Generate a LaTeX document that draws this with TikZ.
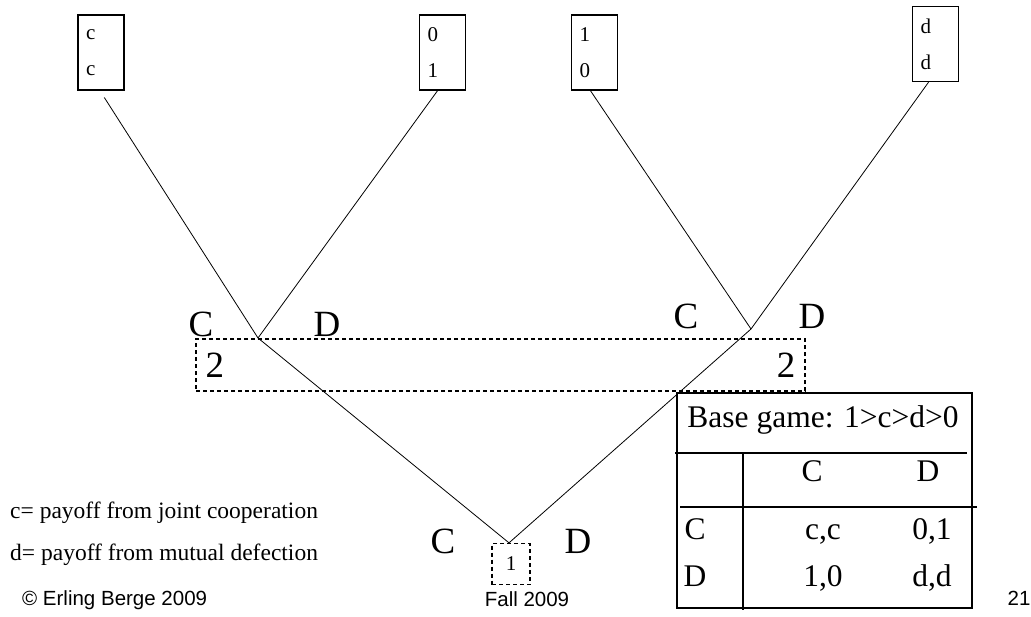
\documentclass[tikz,border=0pt]{standalone}
\usepackage{fontspec}
\setmainfont{Liberation Serif}
\newfontfamily\footfont{Liberation Sans}
\usepackage{tikz}
\usetikzlibrary{positioning, calc}

\begin{document}
\begin{tikzpicture}[x=1pt, y=-1pt,
  move/.style={font=\fontsize{37}{37}\selectfont, inner sep=0pt},
  leaf/.style={draw, line width=1.5pt, minimum width=46pt, minimum height=75pt, text width=30pt, align=left, inner sep=0pt, font=\fontsize{21}{36}\selectfont},
  infoset/.style={draw, line width=1.3pt, dash pattern=on 4pt off 3pt, inner sep=0pt},
  branch/.style={line width=0.8pt},
  cell/.style={font=\fontsize{31.5}{31.5}\selectfont, inner sep=0pt, text height=0.72em, text depth=0.22em},
  rule/.style={line width=1.6pt},
  note/.style={font=\fontsize{23.5}{23.5}\selectfont, anchor=west, inner sep=0pt, text height=0.72em, text depth=0.22em},
  foot/.style={font=\footfont\fontsize{20.5}{20.5}\selectfont, inner sep=0pt, text height=0.72em, text depth=0.22em}]

  \useasboundingbox (0,0) rectangle (1031,616);

  \node[leaf] (leafcc) at (101,52.5) {c\\c};
  \node[leaf] (leafol) at (442.5,52.5) {0\\1};
  \node[leaf] (leaflo) at (594.5,52.5) {1\\0};
  \node[leaf] (leafdd) at (935.5,44) {d\\d};

  \node[infoset, minimum width=609pt, minimum height=52pt] (set2) at (500.5,365) {};
  \node[move, right=10pt of set2.west] (twoleft) {2};
  \node[move, left=10pt of set2.east] (tworight) {2};
  \node[infoset, minimum width=38pt, minimum height=41pt, font=\fontsize{21}{21}\selectfont] (set1) at (511,564) {1};

  \coordinate (root) at ([xshift=-2pt]set1.north);
  \coordinate (nodel) at (258,338);
  \coordinate (noder) at (751,329);

  \node[move] (rootc) at (443,541) {C};
  \node[move] (rootd) at (578,541) {D};
  \node[move] (leftc) at (201,324) {C};
  \node[move] (leftd) at (327,324) {D};
  \node[move] (rightc) at (686,316) {C};
  \node[move] (rightd) at (812,316) {D};

  \draw[branch] (root) -- (nodel);
  \draw[branch] (root) -- (noder);
  \draw[branch, shorten >=8pt] (nodel) -- ([xshift=-1pt]leafcc.south);
  \draw[branch] (nodel) -- ([xshift=-5pt]leafol.south);
  \draw[branch] (noder) -- ([xshift=-4pt]leaflo.south);
  \draw[branch] (noder) -- ([xshift=-7pt]leafdd.south);

  \node[draw, rule, fill=white, minimum width=295pt, minimum height=215pt, inner sep=0pt] (gametab) at (824.5,500.5) {};
  \draw[rule] (675,453) -- (967,453);
  \draw[rule] (680,507) -- (977,507);
  \draw[rule] (743,453) -- (743,610);
  \node[cell] (base) at (823,425) {Base game: 1>c>d>0};
  \node[cell] (colc) at (812,479) {C};
  \node[cell] (cold) at (928,479) {D};
  \node[cell] (rowc) at (695,537) {C};
  \node[cell] (paycc) at (823,537) {c,c};
  \node[cell] (payol) at (932,537) {0,1};
  \node[cell] (rowd) at (695,584) {D};
  \node[cell] (paylo) at (823,584) {1,0};
  \node[cell] (paydd) at (932,584) {d,d};

  \node[note] (cdef) at (10,516) {c= payoff from joint cooperation};
  \node[note] (ddef) at (10,558) {d= payoff from mutual defection};
  \node[foot, anchor=west] (copy) at (22,603) {© Erling Berge 2009};
  \node[foot] (term) at (527,604) {Fall 2009};
  \node[foot] (page) at (1019,603) {21};
\end{tikzpicture}
\end{document}
